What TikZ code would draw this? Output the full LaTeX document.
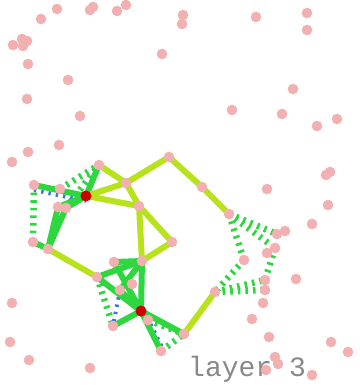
\documentclass[tikz,border=0pt]{standalone}
\usepackage{fontspec}
\usepackage{tikz}
\usetikzlibrary{backgrounds}
\newfontfamily\labelfont{Liberation Mono}
\definecolor{dotpink}{HTML}{F2B0B0}
\definecolor{hubred}{HTML}{CC0000}
\definecolor{limeline}{HTML}{B8E21C}
\definecolor{greenline}{HTML}{2ED640}
\definecolor{blueline}{HTML}{3C78D8}
\definecolor{labelgray}{HTML}{888888}
\tikzstyle{dot}=[circle,fill=dotpink,minimum size=10.6pt,inner sep=0pt]
\tikzstyle{hub}=[circle,fill=hubred,minimum size=11pt,inner sep=0pt]
\tikzstyle{limeedge}=[limeline,line width=6pt]
\tikzstyle{greenedge}=[greenline,line width=6pt]
\tikzstyle{greendot}=[greenline,line width=6.5pt,dash pattern=on 2.6pt off 5pt]
\tikzstyle{bluedot}=[blueline,line width=4pt,dash pattern=on 2.4pt off 5pt]

\begin{document}
\begin{tikzpicture}[x=1pt, y=-1pt]
  \useasboundingbox (0,0) rectangle (359,385);
  % scattered points
  \foreach \px/\py [count=\k] in {41/19, 57/9, 90/10, 93/7, 117/11, 126/5, 183/15, 182/24,
      22/39, 27/41, 23/46, 13/45, 28/64, 68/80, 27/99, 80/116, 59/145, 28/152, 12/162,
      162/54, 256/17, 307/13, 307/30, 293/89, 232/110, 282/114, 317/126, 337/119,
      267/189, 312/224, 326/175, 330/172, 328/205, 296/279, 263/303, 252/319, 269/337,
      275/357, 278/364, 266/370, 312/375, 331/342, 348/352, 12/303, 10/342, 29/360, 90/368} {
    \node[dot] (bg\k) at (\px,\py) {};
  }
  % points of the graph
  \foreach \nm/\px/\py in {a/99/165, b/34/185, c/60/189, d/58/207, e/66/208, f/126/183,
      g/139/206, h/33/242, i/48/249, t/169/157, k/202/187, l/229/214, m/172/242,
      n/142/261, o/114/262, p/97/277, q/132/284, s/120/290, u/148/320, v/113/326,
      w/161/351, x/184/334, y/215/292, z1/244/260, z2/277/234, z3/285/231,
      z4/275/248, z5/267/253, z6/265/280, z7/265/290} {
    \node[dot] (\nm) at (\px,\py) {};
  }
  \node[hub] (r1) at (86,196) {};
  \node[hub] (r2) at (141,311) {};
  \begin{pgfonlayer}{background}
    \node[anchor=base west,text=labelgray,inner sep=0pt,font=\labelfont\fontsize{28}{30}\selectfont] (layer) at (188,376) {layer 3};
    \foreach \ea/\eb in {b/h, c/a, e/a, p/v, u/x, w/x, l/z2, l/z4, l/z1, z1/y, y/z6, y/z7, z4/z6}
      \draw[greendot] (\ea.center) -- (\eb.center);
    \draw[bluedot] ([yshift=-5pt]b.center) -- ([yshift=-5pt]r1.center);
    \draw[bluedot] (s.center) -- (v.center);
    \draw[bluedot] ([xshift=3pt]r2.center) -- ([xshift=3pt]w.center);
    \foreach \ea/\eb in {r1/a, r1/b, r1/d, r1/e, i/d, i/e, h/i, p/n, o/n, n/s, n/r2, o/r2, p/r2, s/r2,
        r2/u, r2/v, r2/w, r2/x}
      \draw[greenedge] (\ea.center) -- (\eb.center);
    \foreach \ea/\eb in {a/f, f/t, t/k, k/l, r1/f, r1/g, f/g, g/n, g/m, m/n, i/p, y/x}
      \draw[limeedge] (\ea.center) -- (\eb.center);
  \end{pgfonlayer}
\end{tikzpicture}
\end{document}
